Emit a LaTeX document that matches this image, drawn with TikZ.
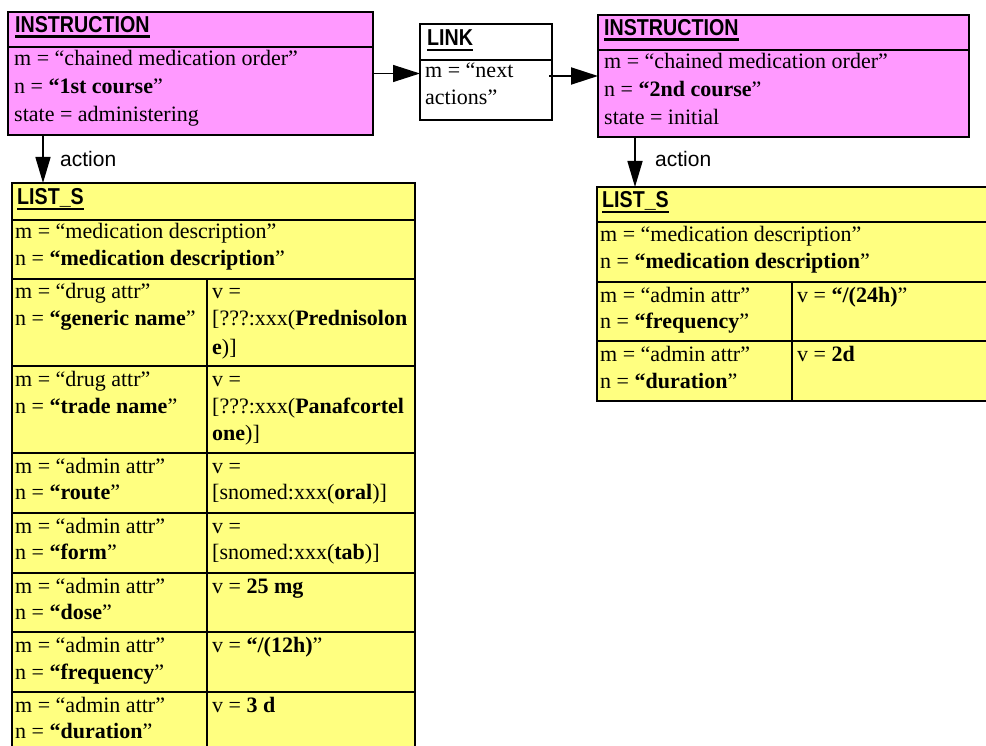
\documentclass[tikz,border=0pt]{standalone}
\usepackage{fontspec}
\setmainfont{Liberation Serif}
\setsansfont{Liberation Sans}
\usetikzlibrary{arrows.meta}
\definecolor{pinkfill}{HTML}{FF99FF}
\definecolor{yelfill}{HTML}{FFFF80}
\begin{document}
\begin{tikzpicture}[x=1pt,y=-1pt,
 box/.style={draw=black, line width=1.8pt, inner sep=0pt, outer sep=0pt, anchor=north west},
 txt/.style={anchor=base west, inner sep=0pt, font=\fontsize{22}{27}\selectfont},
 hdr/.style={anchor=base west, inner sep=0pt, xscale=0.855, font=\sffamily\bfseries\fontsize{23}{26}\selectfont},
 lbl/.style={anchor=base west, inner sep=0pt, font=\sffamily\fontsize{21}{25}\selectfont},
 sep/.style={line width=1.4pt},
 thicksep/.style={line width=2.4pt},
 ul/.style={line width=2.6pt},
 arr/.style={line width=1.6pt, -{Triangle[length=27pt,width=17pt]}},
]
\useasboundingbox (0,0) rectangle (986,746);
\clip (0,0) rectangle (986,746);

% ---------- Instruction 1 ----------
\node[box, fill=pinkfill, minimum width=365pt, minimum height=123pt] (i1) at (8,12) {};
\draw[sep] (8,47) -- (373,47);
\node[hdr] (i1h) at (15,32.5) {INSTRUCTION};
\draw[ul] ([yshift=-4pt]i1h.base west) -- ([yshift=-4pt]i1h.base east);
\node[txt] (i1a) at (14,66) {m = “chained medication order”};
\node[txt] (i1b) at (14,94) {n = \textbf{“1st course}”};
\node[txt] (i1c) at (14,122) {state = administering};

% ---------- Link ----------
\node[box, fill=white, minimum width=132pt, minimum height=96pt] (lk) at (420,24) {};
\draw[sep] (420,60) -- (552,60);
\node[hdr] (lkh) at (427,46) {LINK};
\draw[ul] ([yshift=-4pt]lkh.base west) -- ([yshift=-4pt]lkh.base east);
\node[txt] (lka) at (425,78) {m = “next};
\node[txt] (lkb) at (425,105) {actions”};

% ---------- Instruction 2 ----------
\node[box, fill=pinkfill, minimum width=371pt, minimum height=122pt] (i2) at (598,15) {};
\draw[sep] (598,50) -- (969,50);
\node[hdr] (i2h) at (604,35.5) {INSTRUCTION};
\draw[ul] ([yshift=-4pt]i2h.base west) -- ([yshift=-4pt]i2h.base east);
\node[txt] (i2a) at (604,69) {m = “chained medication order”};
\node[txt] (i2b) at (604,97) {n = \textbf{“2nd course}”};
\node[txt] (i2c) at (604,125) {state = initial};

% ---------- LIST_S left ----------
\node[box, fill=yelfill, minimum width=403pt, minimum height=580pt] (l1) at (12,183) {};
\draw[sep] (12,220) -- (415,220);
\draw[thicksep] (12,279) -- (415,279);
\draw[sep] (12,366) -- (415,366);
\draw[sep] (12,453) -- (415,453);
\draw[sep] (12,513) -- (415,513);
\draw[sep] (12,573) -- (415,573);
\draw[sep] (12,632) -- (415,632);
\draw[thicksep] (12,692) -- (415,692);
\draw[thicksep] (207,279) -- (207,763);
\node[hdr] (l1h) at (17,205) {LIST\_S};
\draw[ul] ([yshift=-4pt]l1h.base west) -- ([yshift=-4pt]l1h.base east);
\node[txt] (l1a) at (15,239) {m = “medication description”};
\node[txt] (l1b) at (15,266) {n = \textbf{“medication description}”};
% generic name
\node[txt] (g1) at (15,299) {m = “drug attr”};
\node[txt] (g2) at (15,326) {n = \textbf{“generic name}”};
\node[txt] (g3) at (212,299) {v =};
\node[txt] (g4) at (212,326) {[???:xxx(\textbf{Prednisolon}};
\node[txt] (g5) at (212,354) {\textbf{e})]};
% trade name
\node[txt] (t1) at (15,386) {m = “drug attr”};
\node[txt] (t2) at (15,413) {n = \textbf{“trade name}”};
\node[txt] (t3) at (212,386) {v =};
\node[txt] (t4) at (212,413) {[???:xxx(\textbf{Panafcortel}};
\node[txt] (t5) at (212,440) {\textbf{one})]};
% route
\node[txt] (r1) at (15,473) {m = “admin attr”};
\node[txt] (r2) at (15,499) {n = \textbf{“route}”};
\node[txt] (r3) at (212,473) {v =};
\node[txt] (r4) at (212,499) {[snomed:xxx(\textbf{oral})]};
% form
\node[txt] (f1) at (15,533) {m = “admin attr”};
\node[txt] (f2) at (15,559) {n = \textbf{“form}”};
\node[txt] (f3) at (212,533) {v =};
\node[txt] (f4) at (212,559) {[snomed:xxx(\textbf{tab})]};
% dose
\node[txt] (d1) at (15,593) {m = “admin attr”};
\node[txt] (d2) at (15,619) {n = \textbf{“dose}”};
\node[txt] (d3) at (212,593) {v = \textbf{25 mg}};
% frequency
\node[txt] (q1) at (15,652) {m = “admin attr”};
\node[txt] (q2) at (15,679) {n = \textbf{“frequency}”};
\node[txt] (q3) at (212,652) {v = \textbf{“/(12h)}”};
% duration
\node[txt] (u1) at (15,712) {m = “admin attr”};
\node[txt] (u2) at (15,738) {n = \textbf{“duration}”};
\node[txt] (u3) at (212,712) {v = \textbf{3 d}};

% ---------- LIST_S right ----------
\node[box, fill=yelfill, minimum width=403pt, minimum height=214pt] (l2) at (597,187) {};
\draw[sep] (597,222) -- (1000,222);
\draw[sep] (597,282) -- (1000,282);
\draw[thicksep] (597,341) -- (1000,341);
\draw[sep] (792,282) -- (792,401);
\node[hdr] (l2h) at (602,208) {LIST\_S};
\draw[ul] ([yshift=-4pt]l2h.base west) -- ([yshift=-4pt]l2h.base east);
\node[txt] (l2a) at (600,242) {m = “medication description”};
\node[txt] (l2b) at (600,269) {n = \textbf{“medication description}”};
\node[txt] (p1) at (600,302) {m = “admin attr”};
\node[txt] (p2) at (600,329) {n = \textbf{“frequency}”};
\node[txt] (p3) at (797,302) {v = \textbf{“/(24h)}”};
\node[txt] (s1) at (600,361) {m = “admin attr”};
\node[txt] (s2) at (600,388) {n = \textbf{“duration}”};
\node[txt] (s3) at (797,361) {v = \textbf{2d}};

% ---------- Connectors ----------
\draw[arr, line width=1.2pt] (i1.east) -- (lk.west |- i1.east);
\draw[arr, line width=2pt] ([xshift=-3pt]lk.east |- i2.west) -- (i2.west);
\draw[arr, -{Triangle[length=26pt,width=15pt]}] ([xshift=35pt]i1.south west) -- ([xshift=35pt]i1.south west |- l1.north);
\draw[arr, -{Triangle[length=26pt,width=15pt]}] ([xshift=37pt]i2.south west) -- ([xshift=37pt]i2.south west |- l2.north);
\node[lbl] (act1) at (60,167) {action};
\node[lbl] (act2) at (655,167) {action};
\end{tikzpicture}
\end{document}
